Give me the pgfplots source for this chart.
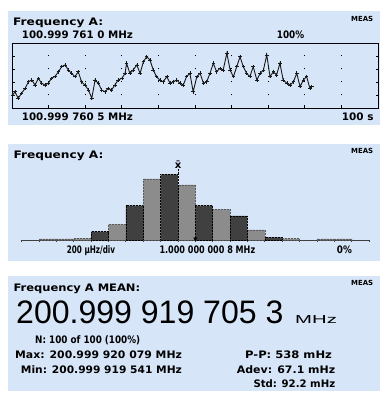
\documentclass[border=0pt]{standalone}
\usepackage{pgfplots}
\pgfplotsset{compat=1.18}
\usepackage{fontspec}
\usepackage{graphicx}
\setmainfont{DejaVu Sans}
\newfontfamily\lcd{Liberation Sans}
\definecolor{panel}{RGB}{214,229,248}
\newsavebox\tbox
\newcommand{\tx}[2]{\sbox\tbox{#2}\pgfmathsetmacro\tsx{#1/\wd\tbox}\scalebox{\tsx}[1]{\usebox\tbox}}
\newcommand{\sm}{\fontsize{10.3}{12}\selectfont\bfseries}
\newcommand{\meas}{\fontsize{7}{8}\selectfont\bfseries}

\pgfplotstableread{
t v
0.2 100
0.8 125
1.7 75
2.6 113
3.6 151
4.5 202
5.4 215
6.3 177
7.2 228
8.1 190
9.0 177
9.9 190
10.8 228
11.7 241
12.7 279
13.6 318
14.5 331
15.4 292
16.3 267
17.2 241
18.1 279
19.0 202
19.9 177
20.9 138
21.8 75
22.7 215
23.6 190
24.5 138
25.4 125
26.3 151
27.2 138
28.1 177
29.0 215
30.0 228
30.9 267
31.3 344
32.2 267
33.1 292
34.1 331
35.0 267
35.9 356
36.8 394
37.7 369
38.6 292
39.5 241
40.4 215
41.3 202
42.3 241
43.2 190
44.1 202
45.0 215
45.9 190
46.8 177
47.7 241
48.6 267
49.5 125
50.5 241
51.4 267
52.3 190
53.2 202
54.1 267
55.0 344
55.9 279
56.8 305
57.7 292
58.7 421
59.6 292
60.5 241
61.4 318
62.3 394
63.2 318
64.1 267
65.0 241
65.9 318
66.9 215
67.8 267
68.7 292
69.6 408
70.5 241
71.4 279
72.3 254
73.2 344
74.1 215
75.1 190
76.0 177
76.9 202
77.8 267
78.7 164
79.6 215
80.5 241
81.4 151
81.9 164
}\trace

\pgfplotstableread{
b h
4.5 8.3
6.5 34.3
8.5 65.7
10.5 34.3
12.5 24
14.5 2.7
}\darkbars

\pgfplotstableread{
b h
1.5 1
2.5 1
3.5 1.5
5.5 15.7
7.5 61
9.5 55
11.5 30.7
13.5 10
15.5 1.3
17.5 1
18.5 1
}\lightbars

\begin{document}
\begin{tikzpicture}
\path (0pt,0pt) rectangle (389pt,399pt);
\fill[panel] (8pt,388pt) rectangle (380pt,274pt);
\fill[panel] (8pt,255pt) rectangle (380pt,138pt);
\fill[panel] (8pt,123pt) rectangle (380pt,8pt);

% ---- panel 1 texts
\node[anchor=base west, inner sep=0] at (13pt,373pt) {\sm\tx{90}{Frequency A:}};
\node[anchor=base west, inner sep=0] at (351pt,377pt) {\meas\tx{22}{MEAS}};
\node[anchor=base west, inner sep=0] at (21.7pt,360pt) {\sm\tx{111}{100.999 761 0 MHz}};
\node[anchor=base west, inner sep=0] at (276.7pt,360pt) {\sm\tx{27.3}{100\%}};
\node[anchor=base west, inner sep=0] at (21.7pt,278.3pt) {\sm\tx{111}{100.999 760 5 MHz}};
\node[anchor=base west, inner sep=0] at (341.7pt,278.3pt) {\sm\tx{31.7}{100 s}};

\begin{axis}[
  at={(12pt,291pt)}, anchor=south west,
  scale only axis, width=366pt, height=65pt,
  xmin=0, xmax=100, ymin=0, ymax=500,
  xtick={10,20,...,90}, ytick={100,200,300,400},
  xticklabels={}, yticklabels={},
  xtick pos=left, ytick pos=both,
  tick align=inside, major tick length=2.5pt,
  tick style={black, line width=0.8pt},
  axis line style={black, line width=0.9pt},
  xmajorgrids=true, ymajorgrids=false,
  major grid style={black, line width=1pt, dash pattern=on 1pt off 12pt, dash phase=0.5pt},
]
\addplot[black!90, line width=0.9pt, mark=+, mark size=1.8pt, mark options={line width=0.6pt}] table[x=t,y=v] {\trace};
\end{axis}

% ---- panel 2 texts
\node[anchor=base west, inner sep=0] at (13.3pt,240.7pt) {\sm\tx{90}{Frequency A:}};
\node[anchor=base west, inner sep=0] at (351pt,245pt) {\meas\tx{22}{MEAS}};
\node[anchor=base west, inner sep=0] at (66.7pt,145.7pt) {\sm\tx{48.3}{200 µHz/div}};
\node[anchor=base west, inner sep=0] at (159.3pt,145.7pt) {\sm\tx{95.7}{1.000 000 000 8 MHz}};
\node[anchor=base west, inner sep=0] at (336.7pt,145.7pt) {\sm\tx{15}{0\%}};

\begin{axis}[
  at={(21.7pt,159pt)}, anchor=south west,
  scale only axis, width=347.3pt, height=70pt,
  xmin=0, xmax=20, ymin=0, ymax=70,
  axis x line*=bottom, axis y line=none,
  axis line style={-, black!75, line width=0.9pt},
  xtick={0,1,...,20}, xticklabels={}, ytick=\empty,
  tick align=outside, major tick length=2pt,
  tick style={black!75, line width=0.8pt},
  clip=false,
]
\addplot[ybar, bar width=1, bar shift=0pt, fill=black!45, draw=black!65, line width=0.5pt, densely dotted] table[x=b,y=h] {\lightbars};
\addplot[ybar, bar width=1, bar shift=0pt, fill=black!75, draw=black, line width=0.5pt, densely dotted] table[x=b,y=h] {\darkbars};
\addplot[black, densely dotted, line width=0.6pt] coordinates {(9,66) (9,71)};
\addplot[only marks, mark=triangle*, mark size=2pt, mark options={rotate=180, fill=black}] coordinates {(10,1.2)};
\node[anchor=base, inner sep=0] at (axis cs:9,71.5) {\fontsize{10}{12}\selectfont\bfseries \={x}};
\end{axis}

% ---- panel 3 texts
\node[anchor=base west, inner sep=0] at (13.3pt,107.3pt) {\sm\tx{126.7}{Frequency A MEAN:}};
\node[anchor=base west, inner sep=0] at (351pt,113pt) {\meas\tx{22}{MEAS}};
\node[anchor=base west, inner sep=0] at (16pt,75.7pt) {\lcd\fontsize{32.5}{36}\selectfont\tx{267.3}{200.999 919 705 3}};
\node[anchor=base west, inner sep=0] at (295pt,75.7pt) {\lcd\fontsize{11.6}{13}\selectfont\tx{41.7}{MHz}};
\node[anchor=base west, inner sep=0] at (35pt,55pt) {\sm\tx{105}{N: 100 of 100 (100\%)}};
\node[anchor=base west, inner sep=0] at (15pt,40pt) {\sm\tx{166.7}{Max: 200.999 920 079 MHz}};
\node[anchor=base west, inner sep=0] at (20.7pt,25.7pt) {\sm\tx{161}{Min: 200.999 919 541 MHz}};
\node[anchor=base west, inner sep=0] at (245pt,40pt) {\sm\tx{86.7}{P-P: 538 mHz}};
\node[anchor=base west, inner sep=0] at (236.7pt,25.7pt) {\sm\tx{98.3}{Adev: 67.1 mHz}};
\node[anchor=base west, inner sep=0] at (253.3pt,11.3pt) {\sm\tx{81.7}{Std: 92.2 mHz}};
\end{tikzpicture}
\end{document}
